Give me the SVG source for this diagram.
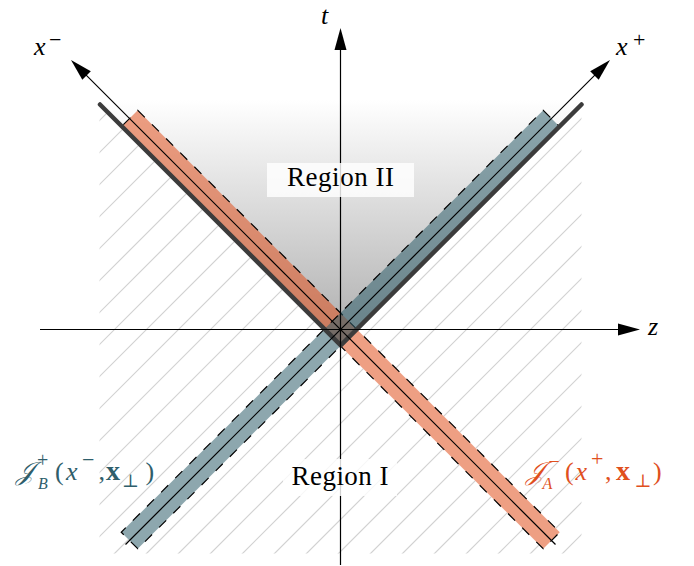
<svg xmlns="http://www.w3.org/2000/svg" width="694" height="566" viewBox="0 0 694 566">
<style>
.txt{font-family:"Liberation Serif","DejaVu Serif",serif;font-size:26px;fill:#000}
.it{font-style:italic}
.bf{font-weight:bold;font-style:normal;font-size:28px}
.sup{font-size:22px}
.jsup{font-size:20px}
.sub{font-size:18px}
.jsub{font-size:16px}
.reg{font-size:27px}
.axis{stroke:#000;stroke-width:1.2;fill:none}
.band{stroke:#000;stroke-width:1.2;stroke-dasharray:10 10;fill:none}
.box{fill:#fff;fill-opacity:0.82}
.hatch{stroke:#d2d2d2;stroke-width:1.2;fill:none}
.cal{font-family:"DejaVu Serif","DejaVu Sans","Noto Sans",serif}
</style>
<defs>
<linearGradient id="g2" gradientUnits="userSpaceOnUse" x1="0" y1="100" x2="0" y2="346">
<stop offset="0" stop-color="#ffffff"/>
<stop offset="1" stop-color="#acacac"/>
</linearGradient>
<clipPath id="hclip"><rect x="99.5" y="100" width="482" height="453.5"/></clipPath>
<marker id="arr" markerUnits="userSpaceOnUse" markerWidth="24" markerHeight="14" viewBox="0 -7 24 14" refX="14" refY="0" orient="auto">
<path d="M0,-6 L22,0 L0,6 Z" fill="#000"/>
</marker>
</defs>

<g id="hatching" clip-path="url(#hclip)">
<path class="hatch" d="M-340 560l470-470M-308 560l470-470M-276 560l470-470M-244 560l470-470M-212 560l470-470M-180 560l470-470M-148 560l470-470M-116 560l470-470M-84 560l470-470M-52 560l470-470M-20 560l470-470M12 560l470-470M44 560l470-470M76 560l470-470M108 560l470-470M140 560l470-470M172 560l470-470M204 560l470-470M236 560l470-470M268 560l470-470M300 560l470-470M332 560l470-470M364 560l470-470M396 560l470-470M428 560l470-470M460 560l470-470M492 560l470-470M524 560l470-470M556 560l470-470"/>
</g>

<g id="band-underlay" fill="#fff">
<polygon points="137.77,110.23 559.77,532.23 543.23,548.77 121.23,126.77"/>
<polygon points="543.23,110.23 559.77,126.77 137.77,548.77 121.23,532.23"/>
</g>

<g id="region2-shade">
<polygon points="95.5,100 340.75,345.25 586,100" fill="url(#g2)"/>
</g>

<g id="JA-band">
<polygon points="137.77,110.23 559.77,532.23 543.23,548.77 121.23,126.77" fill="#e0501e" fill-opacity="0.55"/>
<polygon class="band" points="137.77,110.23 559.77,532.23 543.23,548.77 121.23,126.77"/>
</g>
<g id="JB-band">
<polygon points="543.23,110.23 559.77,126.77 137.77,548.77 121.23,532.23" fill="#2f5e6b" fill-opacity="0.55"/>
<polygon class="band" points="543.23,110.23 559.77,126.77 137.77,548.77 121.23,532.23"/>
</g>

<g id="horizon">
<path d="M100,104.5 L340.75,345.25 L581.5,104.5" fill="none" stroke="#3c3c3c" stroke-width="4.5" stroke-linecap="round" stroke-linejoin="miter"/>
</g>

<g id="connectors">
<line class="axis" x1="40" y1="329.5" x2="632" y2="329.5" marker-end="url(#arr)"/>
<line class="axis" x1="340.5" y1="565" x2="340.5" y2="36" marker-end="url(#arr)"/>
<line class="axis" x1="555.5" y1="544.5" x2="76.66" y2="65.66" marker-end="url(#arr)"/>
<line class="axis" x1="125.5" y1="544.5" x2="604.34" y2="65.66" marker-end="url(#arr)"/>
</g>

<g id="axis-labels">
<text class="txt it" x="321" y="24">t</text>
<text class="txt it" x="648" y="335">z</text>
<text class="txt"><tspan class="it" x="34" y="55">x</tspan><tspan class="sup" x="49" y="47">−</tspan></text>
<text class="txt"><tspan class="it" x="616" y="55">x</tspan><tspan class="sup" x="633" y="47">+</tspan></text>
</g>

<g id="region2">
<rect class="box" x="267" y="163" width="147" height="34"/>
<text class="txt reg" x="287" y="186" textLength="107" lengthAdjust="spacing">Region II</text>
</g>

<g id="region1">
<rect class="box" x="283" y="459" width="114" height="37"/>
<text class="txt reg" x="291.5" y="485" textLength="97" lengthAdjust="spacing">Region I</text>
</g>

<g id="JB-label">
<text class="txt" style="fill:#2f5e6b"><tspan class="cal it" x="16" y="480">𝒥</tspan><tspan class="jsup" x="37" y="467">+</tspan><tspan class="it jsub" x="38" y="488.5">B</tspan><tspan x="55" y="480">(</tspan><tspan class="it" x="66" y="480">x</tspan><tspan class="sup" x="82" y="467">−</tspan><tspan x="98.5" y="480">,</tspan><tspan class="bf" x="106" y="480">x</tspan><tspan class="sub" x="122" y="487">⊥</tspan><tspan x="145.5" y="480">)</tspan></text>
</g>

<g id="JA-label">
<text class="txt" style="fill:#e0501e"><tspan class="cal it" x="525.5" y="480">𝒥</tspan><tspan class="jsup" x="548.5" y="468">−</tspan><tspan class="it jsub" x="542.5" y="488.5">A</tspan><tspan x="565" y="480">(</tspan><tspan class="it" x="575.5" y="480">x</tspan><tspan class="sup" x="591" y="466">+</tspan><tspan x="605" y="480">,</tspan><tspan class="bf" x="616" y="480">x</tspan><tspan class="sub" x="634.5" y="487">⊥</tspan><tspan x="653" y="480">)</tspan></text>
</g>
</svg>
